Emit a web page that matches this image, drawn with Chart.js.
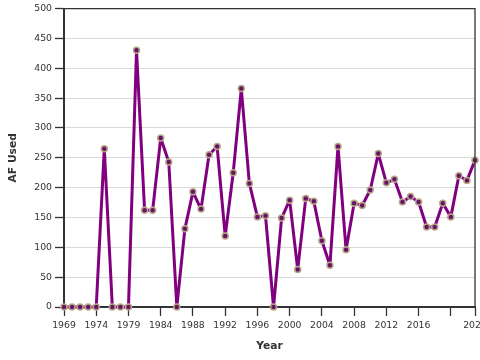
<!DOCTYPE html>
<html>
<head>
<meta charset="utf-8">
<script src="https://cdn.jsdelivr.net/npm/chart.js@4.4.1/dist/chart.umd.min.js"></script>
<style>
  html, body { margin: 0; padding: 0; background: #fff; overflow: hidden; }
  #wrap { width: 480px; height: 360px; overflow: hidden; }
  canvas { display: block; }
</style>
</head>
<body>
<div id="wrap"><canvas id="chart" width="500" height="360"></canvas></div>
<script>
/* ── Data ──────────────────────────────────────────────────────────── */
const years = [
  1969, 1970, 1971, 1972, 1974, 1975, 1976, 1977, 1979, 1980, 1981, 1982,
  1984, 1985, 1986, 1987, 1988, 1989, 1990, 1991, 1992, 1993, 1994, 1995,
  1996, 1997, 1998, 1999, 2000, 2001, 2002, 2003, 2004, 2005, 2006, 2007,
  2008, 2009, 2010, 2011, 2012, 2013, 2014, 2015, 2016, 2017, 2018, 2019,
  2020, 2021, 2022, 2023
];
const afUsed = [
  0, 0, 0, 0, 0, 265, 0, 0, 0, 430, 162, 162,
  283, 243, 0, 131, 193, 164, 255, 269, 119, 225, 366, 207,
  151, 153, 0, 149, 179, 63, 182, 177, 111, 70, 269, 96,
  174, 170, 196, 257, 208, 214, 176, 185, 176, 134, 134, 174,
  151, 220, 212, 246
];
const yTicks = [0, 50, 100, 150, 200, 250, 300, 350, 400, 450, 500];

const FONT = '"DejaVu Sans", Verdana, sans-serif';
const INK  = '#333';

/* show a tick every 4th category plus the last one; 2020 keeps its mark only */
const lastIdx = years.length - 1;
const hasMark  = i => i % 4 === 0 || i === lastIdx;
const hasLabel = i => (i % 4 === 0 && i !== lastIdx - 3) || i === lastIdx;

/* top/right frame lines of the plot box */
const frame = {
  id: 'frame',
  afterDraw(chart) {
    const { ctx, chartArea: a } = chart;
    ctx.save();
    ctx.strokeStyle = INK;
    ctx.lineWidth = 1.3;
    ctx.beginPath();
    ctx.moveTo(a.left, a.top);
    ctx.lineTo(a.right, a.top);
    ctx.lineTo(a.right, a.bottom);
    ctx.stroke();
    ctx.restore();
  },
};

new Chart(document.getElementById('chart'), {
  type: 'line',
  data: {
    labels: years.map(String),
    datasets: [{
      label: 'AF Used',
      data: afUsed,
      borderColor: '#800080',
      borderWidth: 3,
      borderJoinStyle: 'round',
      borderCapStyle: 'round',
      tension: 0,
      pointRadius: 3,
      pointBorderWidth: 1.5,
      pointBackgroundColor: '#661466',
      pointBorderColor: '#b8a888',
      clip: false,
    }],
  },
  options: {
    responsive: false,
    animation: false,
    devicePixelRatio: 1,
    layout: { padding: { top: 5, right: 25, left: 0, bottom: 0 } },
    plugins: { legend: { display: false }, tooltip: { enabled: false } },
    scales: {
      x: {
        type: 'category',
        offset: false,
        border: { color: INK, width: 2 },
        grid: {
          drawOnChartArea: false,
          tickLength: 9,
          tickWidth: 1.3,
          tickColor: c => hasMark(c.index) ? INK : 'rgba(0,0,0,0)',
        },
        ticks: {
          autoSkip: false,
          maxRotation: 0,
          minRotation: 0,
          padding: 4,
          color: INK,
          font: { family: FONT, size: 9.3 },
          callback: (v, i) => hasLabel(i) ? years[i] : '',
        },
        title: {
          display: true,
          text: 'Year',
          color: INK,
          font: { family: FONT, size: 10.7, weight: 'bold' },
          padding: { top: 0, bottom: 7 },
        },
        afterFit(scale) { scale.height = 53; },
      },
      y: {
        min: 0,
        max: 500,
        border: { color: INK, width: 2 },
        grid: {
          color: '#d9d9d9',
          lineWidth: 1,
          tickLength: 9,
          tickWidth: 1.3,
          tickColor: INK,
        },
        afterBuildTicks(scale) { scale.ticks = yTicks.map(v => ({ value: v })); },
        ticks: {
          padding: 3,
          color: INK,
          font: { family: FONT, size: 9.3 },
        },
        title: {
          display: true,
          text: 'AF Used',
          color: INK,
          font: { family: FONT, size: 10.7, weight: 'bold' },
          padding: { top: 7, bottom: 0 },
        },
        afterFit(scale) { scale.width = 64; },
      },
    },
  },
  plugins: [frame],
});
</script>
</body>
</html>
